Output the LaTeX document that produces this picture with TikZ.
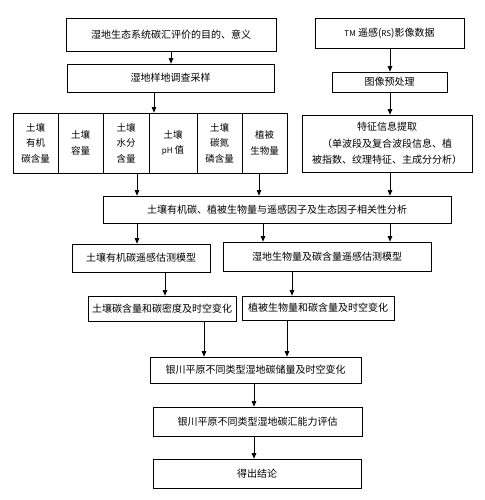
\documentclass[tikz,border=0pt]{standalone}
\usepackage{fontspec}
\newfontfamily\cjk{Noto Sans CJK SC}
\usetikzlibrary{arrows.meta,shadows}
\begin{document}
\begin{tikzpicture}[x=1pt,y=-1pt,
  box/.style={draw, line width=0.7pt, fill=white, inner sep=0pt, align=center,
    font=\cjk\fontsize{10}{16.5}\selectfont,
    drop shadow={shadow xshift=0.8pt, shadow yshift=-1pt, fill=black, opacity=1}},
  cell/.style={box, minimum height=60pt, font=\cjk\fontsize{9.5}{15.5}\selectfont},
  arr/.style={-{Triangle[length=5.5pt,width=4.5pt]}, line width=0.8pt}]
\useasboundingbox (0,0) rectangle (484,500);
% top row
\node[box, minimum width=210pt, minimum height=33pt] (A) at (171,34.5) {湿地生态系统碳汇评价的目的、意义};
\node[box, minimum width=149pt, minimum height=30pt] (RS) at (389.5,33) {{\fontsize{8}{8}\selectfont TM} 遥感({\fontsize{8}{8}\selectfont RS})影像数据};
\node[box, minimum width=207pt, minimum height=28pt] (B) at (170.5,78) {湿地样地调查采样};
\node[box, minimum width=115pt, minimum height=20pt] (P) at (389.5,82) {图像预处理};
\node[box, minimum width=170pt, minimum height=57pt] (F) at (387,143.5) {特征信息提取\\（单波段及复合波段信息、植\\被指数、纹理特征、主成分分析）};
% row of measurements
\node[cell, minimum width=45pt] (r1) at (35.5,143) {土壤\\有机\\碳含量};
\node[cell, minimum width=45pt] (r2) at (80.5,143) {土壤\\容量};
\node[cell, minimum width=46pt] (r3) at (126,143) {土壤\\水分\\含量};
\node[cell, minimum width=48pt] (r4) at (173,143) {土壤\\{\fontsize{8}{8}\selectfont pH} 值};
\node[cell, minimum width=45pt] (r5) at (219.5,143) {土壤\\碳氮\\磷含量};
\node[cell, minimum width=45pt] (r6) at (264.5,143) {植被\\生物量};
% analysis
\node[box, minimum width=348pt, minimum height=27pt] (C) at (277,209.5) {土壤有机碳、植被生物量与遥感因子及生态因子相关性分析};
\node[box, minimum width=138pt, minimum height=28pt] (M1) at (141,258) {土壤有机碳遥感估测模型};
\node[box, minimum width=208pt, minimum height=29pt] (M2) at (327,256.5) {湿地生物量及碳含量遥感估测模型};
\node[box, minimum width=148pt, minimum height=25pt] (S1) at (162,308.5) {土壤碳含量和碳密度及时空变化};
\node[box, minimum width=152pt, minimum height=24pt] (S2) at (318,308) {植被生物量和碳含量及时空变化};
\node[box, minimum width=211pt, minimum height=26pt] (Y1) at (255.5,370) {银川平原不同类型湿地碳储量及时空变化};
\node[box, minimum width=209pt, minimum height=29pt] (Y2) at (257.5,421.5) {银川平原不同类型湿地碳汇能力评估};
\node[box, minimum width=208pt, minimum height=29pt] (Y3) at (257,473.5) {得出结论};
% connector x positions
\coordinate (xa) at (171,0);
\coordinate (xb) at (154,0);
\coordinate (xc) at (390,0);
\coordinate (xd) at (137,0);
\coordinate (xe) at (259,0);
\coordinate (xf) at (263,0);
\coordinate (xg) at (165,0);
\coordinate (xh) at (292,0);
\coordinate (xi) at (204,0);
\coordinate (xj) at (287,0);
\coordinate (xk) at (254,0);
% connectors
\draw[arr] (A.south -| xa) -- (B.north -| xa);
\draw[arr] (B.south -| xb) -- (r4.north -| xb);
\draw[arr] (RS.south -| xc) -- (P.north -| xc);
\draw[arr] (P.south -| xc) -- (F.north -| xc);
\draw[arr] (r3.south -| xd) -- (C.north -| xd);
\draw[arr] (r6.south -| xe) -- (C.north -| xe);
\draw[arr] (F.south -| xc) -- (C.north -| xc);
\draw[arr] (C.south -| xd) -- (M1.north -| xd);
\draw[arr] (C.south -| xf) -- (M2.north -| xf);
\draw[arr] (C.south -| xc) -- (M2.north -| xc);
\draw[arr] (M1.south -| xg) -- (S1.north -| xg);
\draw[arr] (M2.south -| xh) -- (S2.north -| xh);
\draw[arr] (S1.south -| xi) -- (Y1.north -| xi);
\draw[arr] (S2.south -| xj) -- (Y1.north -| xj);
\draw[arr] (Y1.south -| xk) -- (Y2.north -| xk);
\draw[arr] (Y2.south -| xk) -- (Y3.north -| xk);
\end{tikzpicture}
\end{document}
